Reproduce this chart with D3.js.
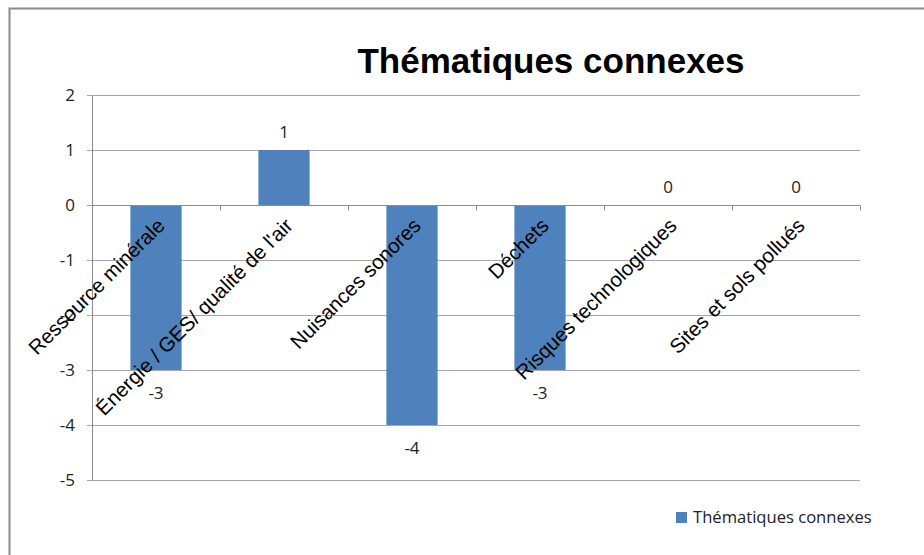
<!DOCTYPE html>
<html>
  <head>
    <meta charset="utf-8">
    <title>Thématiques connexes</title>
    <style type="text/css">
        body{
            margin: 0;
            background: #ffffff;
        }
        .grid line{
            stroke: #a6a6a6;
            stroke-width: 1px;
        }
        .tick-label{
            font-family: "Open Sans", "Noto Sans", sans-serif;
            font-size: 17px;
            fill: #222;
        }
        .cat-label{
            font-family: "Liberation Sans", Arial, sans-serif;
            font-size: 20.5px;
            fill: #000;
        }
    </style>
  </head>
  <body>
    <div id="chart"></div>
    <script src="https://cdn.jsdelivr.net/npm/d3@7"></script>
    <script>
        var categories = ["Ressource minérale", "Énergie / GES/ qualité de l'air", "Nuisances sonores",
                          "Déchets", "Risques technologiques", "Sites et sols pollués"];
        var values = [-3, 1, -4, -3, 0, 0];
        var yTicks = [2, 1, 0, -1, -2, -3, -4, -5];
        var seriesName = "Thématiques connexes";

        var width = 924, height = 555;
        var barColor = "#4f81bd";

        var svg = d3.select("#chart").append("svg")
            .attr("width", width)
            .attr("height", height);

        //  outer frame, runs off the right and bottom edges
        svg.append("rect")
            .attr("x", 9.5).attr("y", 8.5)
            .attr("width", 930).attr("height", 560)
            .attr("fill", "#fff")
            .attr("stroke", "#8a8a8a")
            .attr("stroke-width", 2);

        var x = d3.scaleBand()
            .domain(categories)
            .range([92, 860])
            .paddingInner(0.6)
            .paddingOuter(0.3);

        var y = d3.scaleLinear()
            .domain([-5, 2])
            .range([480, 95]);

        //  horizontal gridlines
        svg.append("g")
            .attr("class", "grid")
            .selectAll("line")
            .data(yTicks)
            .enter().append("line")
                .attr("x1", 87)
                .attr("x2", 860)
                .attr("y1", d => Math.round(y(d)) + 0.5)
                .attr("y2", d => Math.round(y(d)) + 0.5);

        //  left axis line
        svg.append("line")
            .attr("x1", 92.5).attr("x2", 92.5)
            .attr("y1", y(2)).attr("y2", y(-5))
            .attr("stroke", "#8c8c8c");

        //  y tick labels
        svg.append("g")
            .selectAll("text")
            .data(yTicks)
            .enter().append("text")
                .attr("class", "tick-label")
                .attr("x", 75)
                .attr("y", d => y(d))
                .attr("dy", "0.35em")
                .attr("text-anchor", "end")
                .text(d => d);

        //  bars
        svg.append("g")
            .selectAll("rect")
            .data(values)
            .enter().append("rect")
                .attr("x", (d, i) => x(categories[i]))
                .attr("width", x.bandwidth())
                .attr("y", d => y(Math.max(0, d)))
                .attr("height", d => Math.abs(y(d) - y(0)))
                .attr("fill", barColor);

        //  category axis at zero, with small ticks between categories
        var y0 = Math.round(y(0)) + 0.5;
        svg.append("line")
            .attr("x1", 92).attr("x2", 860)
            .attr("y1", y0).attr("y2", y0)
            .attr("stroke", "#8c8c8c");

        svg.append("g")
            .selectAll("line")
            .data(categories)
            .enter().append("line")
                .attr("x1", d => Math.round(x(d) + x.bandwidth() / 2 + x.step() / 2) + 0.5)
                .attr("x2", d => Math.round(x(d) + x.bandwidth() / 2 + x.step() / 2) + 0.5)
                .attr("y1", y0)
                .attr("y2", y0 + 5)
                .attr("stroke", "#8c8c8c");

        //  value labels
        svg.append("g")
            .selectAll("text")
            .data(values)
            .enter().append("text")
                .attr("class", "tick-label")
                .attr("x", (d, i) => x(categories[i]) + x.bandwidth() / 2)
                .attr("y", d => d < 0 ? y(d) + 23 : y(d) - 18)
                .attr("dy", "0.35em")
                .attr("text-anchor", "middle")
                .text(d => d);

        //  rotated category labels
        svg.append("g")
            .selectAll("text")
            .data(categories)
            .enter().append("text")
                .attr("class", "cat-label")
                .attr("text-anchor", "end")
                .attr("transform", d => "translate(" + (x(d) + x.bandwidth() / 2 + 10) + "," + (y(0) + 22) + ") rotate(-45)")
                .text(d => d);

        //  title
        svg.append("text")
            .attr("x", 551)
            .attr("y", 73)
            .attr("text-anchor", "middle")
            .attr("font-family", "'Liberation Sans', Arial, sans-serif")
            .attr("font-weight", "bold")
            .attr("font-size", 35)
            .text(seriesName);

        //  legend
        var legend = svg.append("g").attr("transform", "translate(676,512)");
        legend.append("rect")
            .attr("width", 11).attr("height", 11)
            .attr("fill", barColor);
        legend.append("text")
            .attr("class", "tick-label")
            .attr("x", 17)
            .attr("y", 5.5)
            .attr("dy", "0.35em")
            .style("font-size", "16.6px")
            .text(seriesName);
    </script>
  </body>
</html>
